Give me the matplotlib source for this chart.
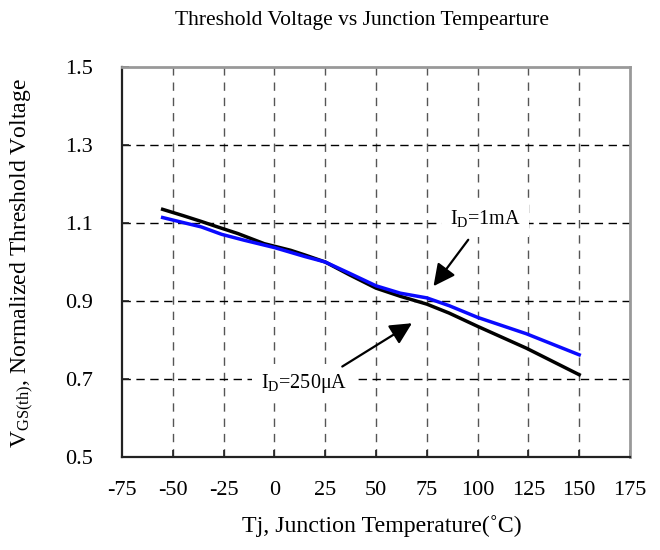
import matplotlib
matplotlib.use("Agg")
import matplotlib.pyplot as plt

plt.rcParams['font.family'] = ['Liberation Serif', 'DejaVu Serif']
plt.rcParams['mathtext.fontset'] = 'custom'
plt.rcParams['mathtext.rm'] = 'Liberation Serif'
plt.rcParams['mathtext.it'] = 'Liberation Serif:italic'

# ---- data ----
title = "Threshold Voltage vs Junction Tempearture"
xlabel = "Tj, Junction Temperature(˚C)"
ylabel = r"V$_{\rm GS(th)}$, Normalized Threshold Voltage"

x_ticks = [-75, -50, -25, 0, 25, 50, 75, 100, 125, 150, 175]
y_ticks = [0.5, 0.7, 0.9, 1.1, 1.3, 1.5]
y_tick_labels = ["0.5", "0.7", "0.9", "1.1", "1.3", "1.5"]

# ID = 250uA (black)
temp_250uA = [-55, -45, -36, -28, -18, -5, 8, 15, 25, 37, 50, 62, 75, 86, 100, 124, 137, 150]
vth_250uA = [1.135, 1.119, 1.104, 1.090, 1.073, 1.047, 1.030, 1.018, 1.000, 0.967,
             0.933, 0.912, 0.892, 0.869, 0.835, 0.779, 0.745, 0.711]

# ID = 1mA (blue)
temp_1mA = [-55, -44, -36, -26, -15, 0, 15, 25, 37, 50, 62, 75, 86, 100, 124, 150]
vth_1mA = [1.114, 1.100, 1.090, 1.071, 1.056, 1.037, 1.014, 1.000, 0.971, 0.939,
           0.920, 0.908, 0.888, 0.858, 0.816, 0.762]

label_1mA = r"I$_{\rm D}$=1mA"
label_250uA = r"I$_{\rm D}$=250μA"

# ---- figure ----
fig = plt.figure(figsize=(6.6, 5.5), dpi=100)
ax = fig.add_axes([122/660, 1 - 457/550, 508/660, 390/550])

ax.set_xlim(-75, 175)
ax.set_ylim(0.5, 1.5)
ax.set_xticks(x_ticks)
ax.set_xticklabels([str(t) for t in x_ticks])
ax.set_yticks(y_ticks)
ax.set_yticklabels(y_tick_labels)

# grid
for xv in x_ticks[1:-1]:
    ax.axvline(xv, color='#555555', lw=1.0, ls=(0, (6, 5)), zorder=1)
for yv in y_ticks[1:-1]:
    ax.axhline(yv, color='black', lw=1.0, ls=(0, (6, 4)), zorder=1)

ax.plot(temp_250uA, vth_250uA, color='black', lw=2.5, zorder=3, solid_joinstyle='round')
ax.plot(temp_1mA, vth_1mA, color='#0a0aff', lw=2.5, zorder=4, solid_joinstyle='round')

# spines
for s in ['left', 'bottom']:
    ax.spines[s].set_color('#222222')
    ax.spines[s].set_linewidth(1.6)
for s in ['top', 'right']:
    ax.spines[s].set_color('#999999')
    ax.spines[s].set_linewidth(2.0)

ax.tick_params(axis='both', direction='in', length=5, width=1.2, color='#222222',
               labelsize=16)
ax.tick_params(axis='x', pad=17)
ax.tick_params(axis='y', pad=21)

# annotations
bbox = dict(facecolor='white', edgecolor='none', pad=6)
ax.text(104, 1.112, label_1mA, fontsize=14.5, ha='center', va='center', bbox=bbox, zorder=5)
ax.text(14.5, 0.688, label_250uA, fontsize=14.5, ha='center', va='center', bbox=bbox, zorder=5)

arrow = dict(arrowstyle='-|>,head_length=0.6,head_width=0.3', color='black', lw=1.6,
             shrinkA=0, shrinkB=0, mutation_scale=22)
ax.annotate('', xy=(78.3, 0.938), xytext=(95.4, 1.057), arrowprops=arrow, zorder=6)
ax.annotate('', xy=(67.7, 0.843), xytext=(33.4, 0.732), arrowprops=arrow, zorder=6)

fig.text(362/660, 1 - 20/550, title, fontsize=15.5, ha='center', va='center')
fig.text(382/660, 1 - 526/550, xlabel, fontsize=17.2, ha='center', va='center')
fig.text(22/660, 1 - 263/550, ylabel, fontsize=17, ha='center', va='center', rotation=90)

fig.savefig('out.png', dpi=100)
